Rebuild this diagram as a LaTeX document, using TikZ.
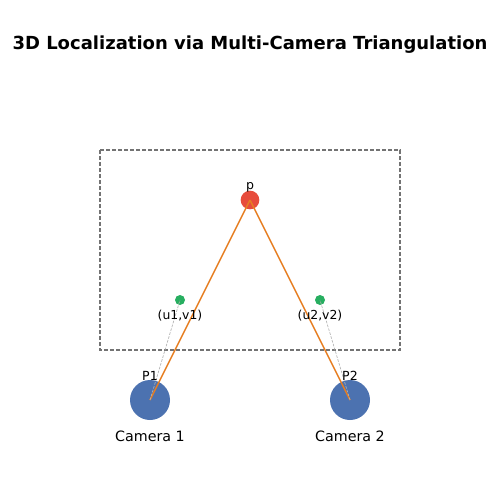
\documentclass[tikz,border=0pt]{standalone}
\usepackage{fontspec}
\setmainfont{DejaVu Sans}
\definecolor{ptred}{RGB}{231,76,60}
\definecolor{ptgreen}{RGB}{39,174,96}
\definecolor{camblue}{RGB}{76,114,176}
\definecolor{rayorange}{RGB}{230,126,34}
\tikzset{every picture/.style={line width=0.75pt}}
\tikzset{
  campoint/.style={circle,fill=camblue,inner sep=0pt,minimum size=30pt},
  worldpoint/.style={circle,fill=ptred,inner sep=0pt,minimum size=14pt},
  imgpoint/.style={circle,fill=ptgreen,inner sep=0pt,minimum size=7.5pt},
  smalllabel/.style={font=\fontsize{9.3}{11}\selectfont,inner sep=0pt},
  ptlabel/.style={font=\fontsize{9.4}{11}\selectfont,inner sep=0pt},
  camlabel/.style={font=\fontsize{10.7}{13}\selectfont,inner sep=0pt},
  ray/.style={draw=rayorange,line width=1.1pt},
  proj/.style={draw=gray!60,line width=0.5pt,dash pattern=on 2pt off 1pt}
}

\begin{document}
\begin{tikzpicture}[x=0.75pt,y=0.75pt,yscale=-1,xscale=1]
		\useasboundingbox (0,0) rectangle (500,500);

		% Title
		\node (title) at (250,45) {\fontsize{13.5}{16}\selectfont\bfseries 3D Localization via Multi-Camera Triangulation};

		%Shape: Rectangle
		\draw [color=black!55,dash pattern=on 3pt off 1.5pt,line width=0.8pt] (100,150) rectangle (400,350) ;

		%Shape: Circles
		\node [worldpoint] (p) at (250,200) {};
		\node [imgpoint] (uv1) at (180,300) {};
		\node [imgpoint] (uv2) at (320,300) {};
		\node [campoint] (cam1) at (150,400) {};
		\node [campoint] (cam2) at (350,400) {};

		%Straight Lines
		\draw [ray] (cam1.center) -- (p.center) ;
		\draw [ray] (cam2.center) -- (p.center) ;
		\draw [proj] (cam1.center) -- (uv1.center) ;
		\draw [proj] (cam2.center) -- (uv2.center) ;

		% Text Node
		\node [ptlabel] (plbl) at (250,187) {p};
		% Text Node
		\node [smalllabel] (uv1lbl) at (180,316) {(u1,v1)};
		% Text Node
		\node [smalllabel] (uv2lbl) at (320,316) {(u2,v2)};
		% Text Node
		\node [ptlabel] (p1lbl) at (150,376) {P1};
		% Text Node
		\node [ptlabel] (p2lbl) at (350,376) {P2};
		% Text Node
		\node [camlabel] (cam1lbl) at (150,436) {Camera 1};
		% Text Node
		\node [camlabel] (cam2lbl) at (350,436) {Camera 2};

		\end{tikzpicture}
\end{document}
